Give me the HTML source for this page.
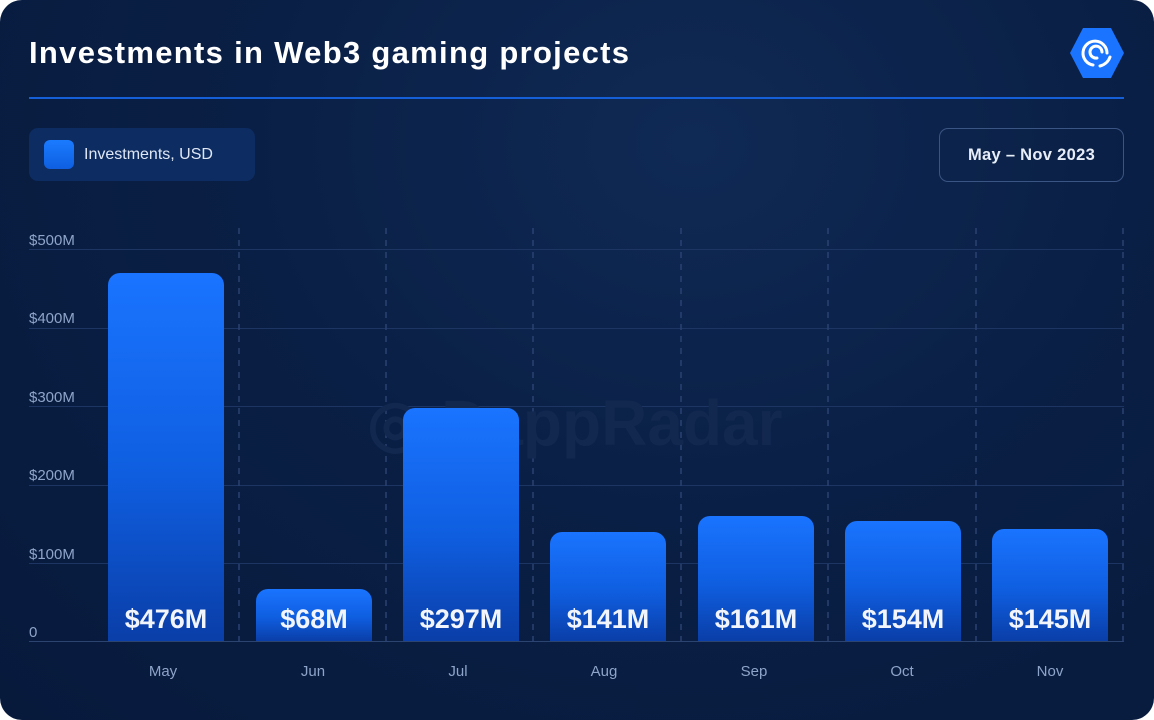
<!DOCTYPE html>
<html><head><style>
body{margin:0;width:1154px;height:720px;background:#fff;overflow:hidden;font-family:"Liberation Sans",sans-serif}
.card{position:absolute;left:0;top:0;width:1154px;height:720px;border-radius:22px;background:radial-gradient(ellipse at 60% 20%,#0f2a55 0%,#0a1f45 45%,#071a3c 100%);overflow:hidden}
.t{position:absolute;left:29px;top:35px;color:#fff;font-weight:bold;font-size:31px;letter-spacing:1.3px}
.line{position:absolute;left:29px;top:97px;width:1095px;height:2px;background:#1560d8}
.leg{position:absolute;left:29px;top:128px;width:226px;height:53px;border-radius:9px;background:#0c2c62}
.leg i{position:absolute;left:15px;top:12px;width:30px;height:29px;border-radius:6px;background:linear-gradient(#1a7bff,#0f5fe0)}
.leg span{position:absolute;left:55px;top:18px;color:#dfe7f5;font-size:16px}
.date{position:absolute;left:939px;top:128px;width:183px;height:52px;border:1.5px solid #3a5583;border-radius:9px;color:#e8eef8;font-weight:bold;font-size:16.5px;letter-spacing:0.3px;text-align:center;line-height:52px}
.yl{position:absolute;left:29px;color:#8ea4c8;font-size:15px}
.xl{position:absolute;top:663px;color:#8ea4c8;font-size:15px;width:80px;text-align:center}
.bar{position:absolute;width:116px;border-radius:12px 12px 0 0;background:linear-gradient(#1a74ff 0%,#0f5ee0 55%,#0a3ea8 100%)}
.bar b{position:absolute;left:0;right:0;bottom:6px;text-align:center;color:#f2f5fb;font-size:27px}
</style></head><body><div class="card">
<div class="t">Investments in Web3 gaming projects</div>
<svg style="position:absolute;left:1069px;top:27px" width="56" height="52" viewBox="0 0 56 52"><polygon points="14,1 42,1 55,26 42,51 14,51 1,26" fill="#1a74ff"/><path d="M24 38 A12 12 0 1 1 38 26 M28 31 A6 6 0 1 1 33 25" stroke="#fff" stroke-width="3" fill="none" stroke-linecap="round"/><path d="M31 39 A14 14 0 0 0 41 30" stroke="#fff" stroke-width="3" fill="none" stroke-linecap="round"/></svg>
<div class="line"></div>
<div class="leg"><i></i><span>Investments, USD</span></div>
<div class="date">May – Nov 2023</div>
<svg style="position:absolute;left:0;top:0" width="1154" height="720">
<g stroke="#1d3563" stroke-width="1">
<line x1="29" x2="1124" y1="249.5" y2="249.5"/><line x1="29" x2="1124" y1="328.5" y2="328.5"/><line x1="29" x2="1124" y1="406.5" y2="406.5"/><line x1="29" x2="1124" y1="485.5" y2="485.5"/><line x1="29" x2="1124" y1="563.5" y2="563.5"/>
</g>
<line x1="29" x2="1124" y1="641.5" y2="641.5" stroke="#2b4470"/>
<g stroke="#2a4272" stroke-dasharray="6,6" stroke-width="1.5">
<line x1="239" x2="239" y1="228" y2="641"/><line x1="386" x2="386" y1="228" y2="641"/><line x1="533" x2="533" y1="228" y2="641"/><line x1="681" x2="681" y1="228" y2="641"/><line x1="828" x2="828" y1="228" y2="641"/><line x1="976" x2="976" y1="228" y2="641"/><line x1="1123" x2="1123" y1="228" y2="641"/>
</g>
<text x="575" y="445" text-anchor="middle" font-family="Liberation Sans" font-weight="bold" font-size="64" fill="#13284f">◎ DappRadar</text>
</svg>
<div class="yl" style="top:232px">$500M</div><div class="yl" style="top:310px">$400M</div><div class="yl" style="top:389px">$300M</div><div class="yl" style="top:467px">$200M</div><div class="yl" style="top:546px">$100M</div><div class="yl" style="top:624px">0</div>
<div class="bar" style="left:108px;top:273px;height:368px"><b>$476M</b></div>
<div class="bar" style="left:256px;top:589px;height:52px"><b>$68M</b></div>
<div class="bar" style="left:403px;top:408px;height:233px"><b>$297M</b></div>
<div class="bar" style="left:550px;top:532px;height:109px"><b>$141M</b></div>
<div class="bar" style="left:698px;top:516px;height:125px"><b>$161M</b></div>
<div class="bar" style="left:845px;top:521px;height:120px"><b>$154M</b></div>
<div class="bar" style="left:992px;top:529px;height:112px"><b>$145M</b></div>
<div class="xl" style="left:123px">May</div><div class="xl" style="left:273px">Jun</div><div class="xl" style="left:418px">Jul</div><div class="xl" style="left:564px">Aug</div><div class="xl" style="left:714px">Sep</div><div class="xl" style="left:862px">Oct</div><div class="xl" style="left:1010px">Nov</div>
</div></body></html>
